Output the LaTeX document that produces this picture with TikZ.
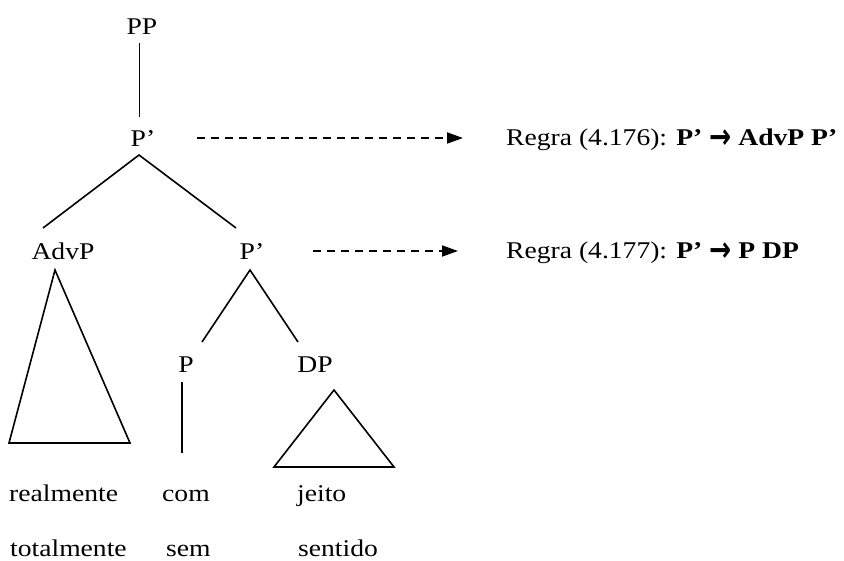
\documentclass[tikz,border=0pt]{standalone}
\usepackage{fontspec}
\usepackage{graphicx}
\setmainfont{Liberation Serif}[FakeStretch=1.15]
\newfontfamily\arrowfont{DejaVu Sans}
\newcommand{\ruleto}{\raisebox{-2.5pt}{\scalebox{1.1}[1.45]{\arrowfont\bfseries →}}}
\usetikzlibrary{arrows.meta}
\begin{document}
\begin{tikzpicture}[x=1pt,y=-1pt,
  lbl/.style={inner sep=0pt,anchor=base,font=\fontsize{24}{28}\selectfont},
  word/.style={inner sep=0pt,anchor=base west,font=\fontsize{24}{28}\selectfont},
  branch/.style={line width=1.6pt},
  rulearrow/.style={line width=1.8pt,dash pattern=on 8pt off 6pt,-{Triangle[length=16pt,width=11pt]}}]
\useasboundingbox (0,0) rectangle (844,561);
% category labels
\node[lbl] (PP) at (142,35) {PP};
\node[lbl] (P1) at (143,147) {P’};
\node[lbl] (AdvP) at (63,260) {AdvP};
\node[lbl] (P2) at (252,260) {P’};
\node[lbl] (P) at (186,373) {P};
\node[lbl] (DP) at (315,373) {DP};
% words
\node[word] (w1) at (9,501) {realmente};
\node[word] (w2) at (162,501) {com};
\node[word] (w3) at (297,501) {jeito};
\node[word] (w4) at (10,556) {totalmente};
\node[word] (w5) at (166,556) {sem};
\node[word] (w6) at (298,556) {sentido};
% rules
\node[word] (r1) at (506,146) {Regra (4.176): \textbf{P’ \ruleto\ AdvP P’}};
\node[word] (r2) at (506,259) {Regra (4.177): \textbf{P’ \ruleto\ P DP}};
% connector end points
\coordinate (ppb) at (139.5,43);
\coordinate (p1t) at (139.5,117);
\coordinate (p1b) at (139,155);
\coordinate (advt) at (43,228);
\coordinate (p2t) at (236,228);
\coordinate (p2b) at (250,270);
\coordinate (pt) at (202,342);
\coordinate (dpt) at (298,342);
\coordinate (pb) at (182,382);
\coordinate (pw) at (182,453);
\coordinate (a1s) at (197,138);
\coordinate (a1e) at (463,138);
\coordinate (a2s) at (313,251);
\coordinate (a2e) at (458,251);
% tree branches
\draw[branch] (ppb) -- (p1t);
\draw[branch] (advt) -- (p1b) -- (p2t);
\draw[branch] (pt) -- (p2b) -- (dpt);
\draw[branch] (pb) -- (pw);
% triangles
\draw[branch,line join=miter] (55,270) -- (9,443) -- (130,443) -- cycle;
\draw[branch,line join=miter] (334,390) -- (274,467) -- (394,467) -- cycle;
% dashed arrows to rules
\draw[rulearrow] (a1s) -- (a1e);
\draw[rulearrow] (a2s) -- (a2e);
\end{tikzpicture}
\end{document}
